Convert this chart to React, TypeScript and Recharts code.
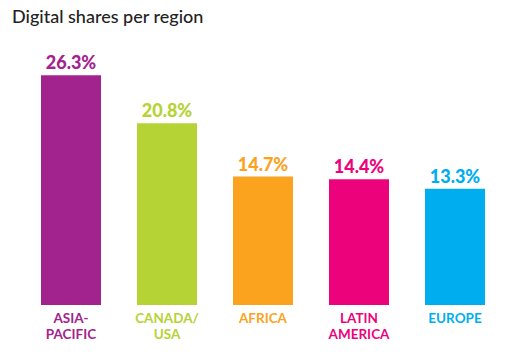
import { BarChart, Bar, XAxis, YAxis, Cell, LabelList } from "recharts"

const REGIONS = ["ASIA-|PACIFIC", "CANADA/|USA", "AFRICA", "LATIN|AMERICA", "EUROPE"]
const SHARES = [26.3, 20.8, 14.7, 14.4, 13.3]
const COLORS = ["#a3238e", "#b5d334", "#fba31f", "#ec037c", "#00aeef"]

const data = REGIONS.map((region, i) => ({ region, share: SHARES[i] }))

const FONT = "Lato, 'Open Sans', sans-serif"

const RegionTick = (props: any) => {
  const { x, y, payload, index } = props
  const lines = String(payload.value).split("|")
  return (
    <text
      x={x}
      y={y}
      textAnchor="middle"
      fill={COLORS[index]}
      fontSize={13.5}
      fontWeight={700}
      fontFamily={FONT}
    >
      {lines.map((line, i) => (
        <tspan key={i} x={x} dy={i === 0 ? 10 : 16}>
          {line}
        </tspan>
      ))}
    </text>
  )
}

const ShareLabel = (props: any) => {
  const { x, y, width, value, index } = props
  return (
    <text
      x={x + width / 2}
      y={y - 6}
      textAnchor="middle"
      fill={COLORS[index]}
      fontSize={18}
      fontWeight={900}
      fontFamily={FONT}
    >
      {`${value}%`}
    </text>
  )
}

export default function App() {
  return (
    <div style={{ position: "absolute", left: 0, top: 0, width: 520, height: 355, background: "#fff" }}>
      <div
        style={{
          position: "absolute",
          left: 12,
          top: 5,
          fontFamily: FONT,
          fontSize: 18,
          color: "#222",
          fontWeight: 500,
        }}
      >
        Digital shares per region
      </div>
      <BarChart width={520} height={355} data={data} margin={{ top: 43, right: 17, bottom: 0, left: 23 }}>
        <YAxis hide domain={[0, 30]} />
        <XAxis
          dataKey="region"
          axisLine={false}
          tickLine={false}
          height={50}
          interval={0}
          tick={<RegionTick />}
        />
        <Bar dataKey="share" barSize={60} isAnimationActive={false}>
          {data.map((_, i) => (
            <Cell key={`cell-${i}`} fill={COLORS[i]} />
          ))}
          <LabelList dataKey="share" content={<ShareLabel />} />
        </Bar>
      </BarChart>
    </div>
  )
}
